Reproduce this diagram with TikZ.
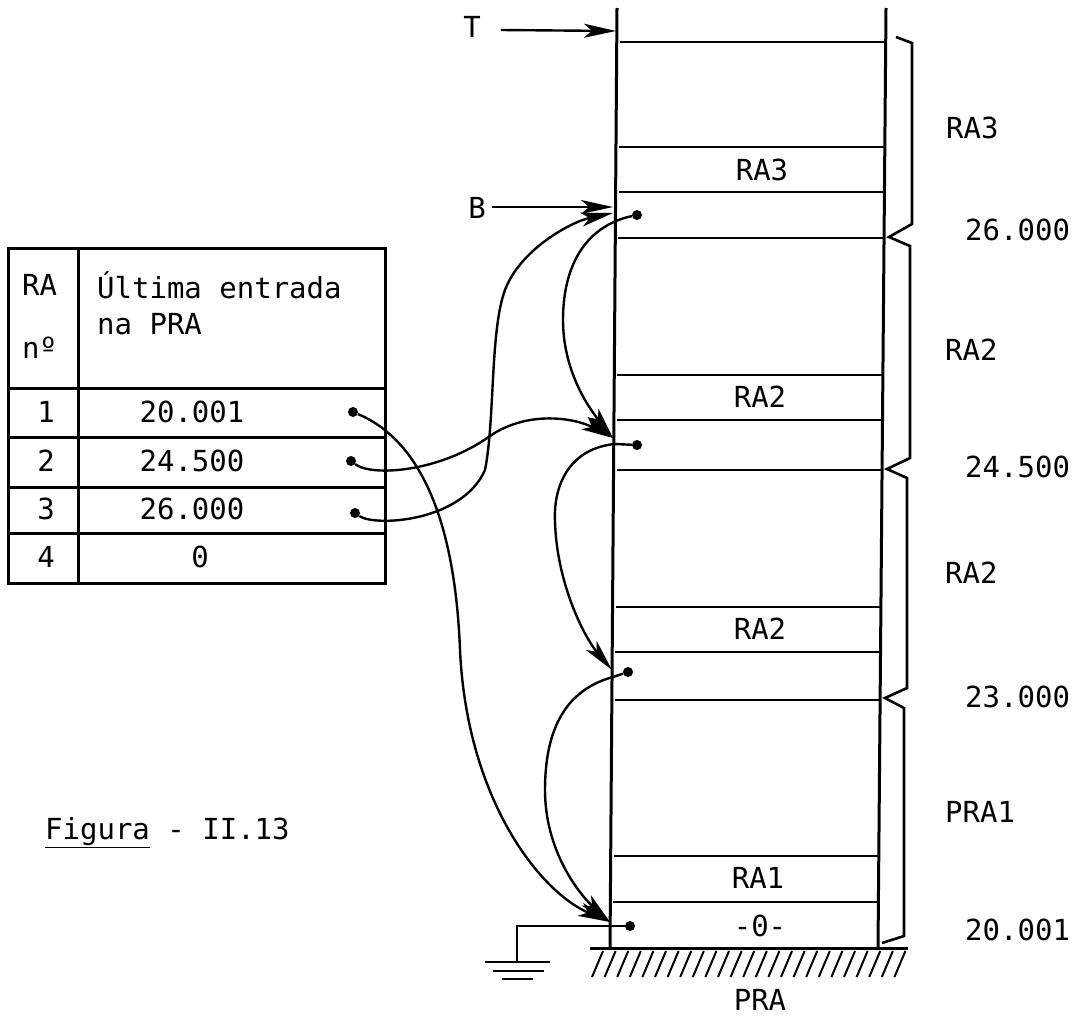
\documentclass[tikz,border=0pt]{standalone}
\usepackage{fontspec}
\setmonofont{DejaVu Sans Mono}
\usetikzlibrary{arrows.meta}
\begin{document}
\begin{tikzpicture}[x=1pt,y=-1pt,
  txt/.style={font=\ttfamily\fontsize{29}{29}\selectfont, inner sep=0pt},
  txtw/.style={txt, anchor=west},
  tbl/.style={line width=3pt},
  col/.style={line width=3pt},
  hl/.style={line width=2.6pt},
  br/.style={line width=2.6pt, line join=miter},
  ptr/.style={line width=2.4pt, -{Stealth[length=32pt,width=14pt,inset=8pt]}},
  wire/.style={line width=2.4pt},
  dotr/.style={circle, fill=black, inner sep=0pt, minimum size=10pt}]
\useasboundingbox (0,0) rectangle (1083,1017);

% ---------- table ----------
\draw[tbl] (8,248) rectangle (385,583);
\draw[tbl] (78,248) -- (78,583);
\foreach \yy in {388,437,487,533} \draw[tbl] (8,\yy) -- (385,\yy);
\node[txtw] (hRA) at (22,285) {RA};
\node[txtw] (hno) at (22,348) {nº};
\node[txtw] (hUl) at (97,285) {Última entrada};
\node[txtw] (hna) at (97,324) {na PRA};
\node[txt] (n1) at (46,412) {1};
\node[txt] (n2) at (46,461) {2};
\node[txt] (n3) at (46,509) {3};
\node[txt] (n4) at (46,557) {4};
\node[txt] (v1) at (192,412) {20.001};
\node[txt] (v2) at (192,461) {24.500};
\node[txt] (v3) at (192,509) {26.000};
\node[txt] (v4) at (200,557) {0};
\node[dotr] (t1) at (353,412) {};
\node[dotr] (t2) at (351,461) {};
\node[dotr] (t3) at (355,513) {};

% ---------- figure caption ----------
\node[txtw] (fig) at (45,833) {\underline{Figura} - II.13};

% ---------- memory column ----------
\coordinate (LT) at (617,8);
\coordinate (LB) at (610,948);
\coordinate (RT) at (886,8);
\coordinate (RB) at (878,948);
\draw[col] (LT) -- (LB);
\draw[col] (RT) -- (RB);
\foreach \yy in {42,147,192,238,375,420,470,607,652,700,856,902}
  \draw[hl] ({617-7*(\yy-8)/940+3},\yy) -- ({886-8*(\yy-8)/940},\yy);
\node[txt] (c3) at (762,170) {RA3};
\node[txt] (c2a) at (760,397) {RA2};
\node[txt] (c2b) at (760,629) {RA2};
\node[txt] (c1) at (758,878) {RA1};
\node[txt] (c0) at (760,926) {-0-};

% ground line and hatching
\coordinate (G1) at (590,948);
\coordinate (G2) at (908,948);
\draw[col] (G1) -- (G2);
\foreach \i in {0,...,24}
  \draw[line width=2pt] ({592+12.6*\i},977) -- ({603+12.6*\i},951);
\node[txt] (pra) at (760,1000) {PRA};

% ---------- braces ----------
\draw[br] (896,37) -- (912,43) -- (912,224) -- (889,237) -- (910,246)
  -- (910,458) -- (887,469) -- (907,478) -- (907,688) -- (885,698)
  -- (904,708) -- (904,936) -- (882,943);
\node[txtw] (r1) at (946,128) {RA3};
\node[txtw] (r2) at (965,230) {26.000};
\node[txtw] (r3) at (945,350) {RA2};
\node[txtw] (r4) at (965,467) {24.500};
\node[txtw] (r5) at (945,573) {RA2};
\node[txtw] (r6) at (965,697) {23.000};
\node[txtw] (r7) at (945,812) {PRA1};
\node[txtw] (r8) at (965,930) {20.001};

% ---------- T and B pointers ----------
\node[txt] (T) at (472,27) {T};
\node[txt] (B) at (477,208) {B};
\coordinate (Tt) at (616,31);
\coordinate (Bt) at (613,207);
\draw[ptr] (T.east) ++(20,3) -- (Tt);
\draw[ptr] (B.east) ++(6,-1) -- (Bt);

% ---------- link dots in column ----------
\node[dotr] (d3) at (637,215) {};
\node[dotr] (d2) at (637,445) {};
\node[dotr] (d1) at (628,672) {};
\node[dotr] (d0) at (630,926) {};
\coordinate (a3) at (613,213);
\coordinate (a2) at (613,438);
\coordinate (a1) at (612,670);
\coordinate (a0) at (610,922);

% chain links
\draw[ptr] (d3) .. controls (590,225) and (563,260) .. (563,320)
  .. controls (563,375) and (593,413) .. (a2);
\draw[ptr] (d2) -- (615,444) .. controls (572,448) and (553,482) .. (555,522)
  .. controls (557,585) and (585,638) .. (a1);
\draw[ptr] (d1) -- (613,677) .. controls (565,690) and (545,730) .. (545,790)
  .. controls (545,850) and (578,893) .. (a0);

% table links
\draw[ptr] (t1) .. controls (420,440) and (455,520) .. (460,650)
  .. controls (467,800) and (540,892) .. (a0);
\draw[ptr] (t2) .. controls (372,477) and (440,472) .. (490,436)
  .. controls (528,410) and (575,418) .. (a2);
\draw[ptr] (t3) .. controls (375,527) and (462,522) .. (485,470)
  .. controls (495,420) and (490,330) .. (505,290)
  .. controls (520,250) and (570,222) .. (a3);

% ground connection
\coordinate (gc) at (517,926);
\coordinate (gb) at (517,962);
\draw[wire] (d0) -- (gc) -- (gb);
\draw[line width=2.6pt] (485,962) -- (550,962);
\draw[line width=2.4pt] (493,971) -- (544,971);
\draw[line width=2.4pt] (502,979) -- (533,979);
\end{tikzpicture}
\end{document}
